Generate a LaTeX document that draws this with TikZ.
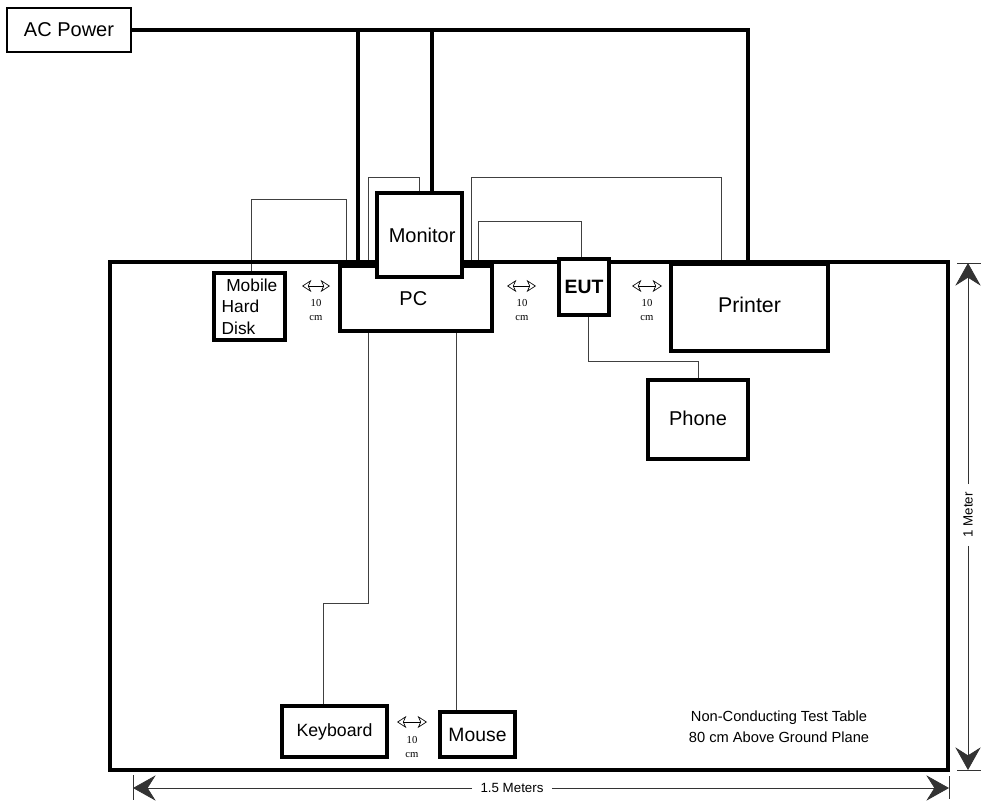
\documentclass[tikz,border=0pt]{standalone}
\usepackage{fontspec}
\setmainfont{Liberation Sans}
\newfontfamily\seriffont{Liberation Serif}
\usetikzlibrary{arrows.meta,backgrounds}
\begin{document}
\begin{tikzpicture}[x=0.75pt,y=-0.75pt,
  box/.style={draw,line width=3pt,fill=white,inner sep=0pt,align=center},
  wire/.style={line width=0.75pt,draw=black!75},
  power/.style={line width=3pt},
  gaparrow/.style={{Stealth[open,length=7pt,width=9pt,inset=2pt]}-{Stealth[open,length=7pt,width=9pt,inset=2pt]},line width=0.5pt},
  dimline/.style={line width=0.6pt,draw=black!80},
  dimtip/.style={-{Stealth[length=17pt,width=19pt,inset=6pt]}},
  cmtxt/.style={font=\seriffont\fontsize{8}{10.5}\selectfont,align=center,inner sep=0pt},
  f15/.style={font=\fontsize{15}{18}\selectfont}
]
\useasboundingbox (0,0) rectangle (985,803);

% table
\node[draw,line width=3pt,minimum width=628.5pt,minimum height=381pt,inner sep=0pt] (table) at (529,516) {};

% boxes
\node[box,line width=2.2pt,minimum width=93pt,minimum height=33pt,f15] (ac) at (69,30) {AC Power};
\node[box,minimum width=114pt,minimum height=48.75pt,f15] (pc) at (416,298.5) {\hspace*{-4pt}PC};
\node[box,minimum width=63.75pt,minimum height=63pt,f15] (mon) at (419.5,235) {\hspace*{4pt}Monitor};
\node[box,minimum width=53.25pt,minimum height=50.25pt,align=left,font=\fontsize{13}{16}\selectfont] (hd) at (249.5,306.5) {\hspace*{3.5pt}Mobile\\Hard\\Disk};
\node[box,minimum width=37.5pt,minimum height=42pt,font=\bfseries\fontsize{14.5}{17}\selectfont] (eut) at (584,287) {EUT};
\node[box,minimum width=117.75pt,minimum height=65.25pt,font=\fontsize{16}{19}\selectfont] (prn) at (749.5,307.5) {\raisebox{4pt}{Printer}};
\node[box,minimum width=75pt,minimum height=59.25pt,f15] (phone) at (698,419.5) {\raisebox{2pt}{Phone}};
\node[box,minimum width=78.75pt,minimum height=38.25pt,font=\fontsize{13.3}{16}\selectfont] (kb) at (334.5,731.5) {Keyboard};
\node[box,minimum width=56.25pt,minimum height=33.75pt,font=\fontsize{14.5}{17}\selectfont] (mouse) at (477.5,734.5) {Mouse};

% cables and power lines
\begin{pgfonlayer}{background}
\draw[power] (ac.east) -- (748,0 |- ac.east) -- (748,0 |- table.north);
\draw[power] (358,0 |- ac.east) -- (358,0 |- pc.north);
\draw[power] (432,0 |- ac.east) -- (432,0 |- mon.north);
\draw[wire] (251,0 |- hd.north) |- (346,199) -- (346,0 |- pc.north);
\draw[wire] (368,0 |- pc.north) |- (419,177) -- (419,0 |- mon.north);
\draw[wire] (471,0 |- pc.north) |- (721,177) -- (721,0 |- prn.north);
\draw[wire] (478,0 |- pc.north) |- (581,221) -- (581,0 |- eut.north);
\draw[wire] (588,0 |- eut.south) |- (698,361) -- (phone.north);
\draw[wire] (368,0 |- pc.south) |- (323,603) -- (323,0 |- kb.north);
\draw[wire] (456,0 |- pc.south) -- (456,0 |- mouse.north);
\end{pgfonlayer}

% 10 cm spacings
\coordinate (g1a) at (302,286); \coordinate (g1b) at (330,286);
\draw[gaparrow] (g1a) -- (g1b);
\node[cmtxt] (g1t) at (316,310) {10\\cm};
\coordinate (g2a) at (507,286); \coordinate (g2b) at (536,286);
\draw[gaparrow] (g2a) -- (g2b);
\node[cmtxt] (g2t) at (522,310) {10\\cm};
\coordinate (g3a) at (632,286); \coordinate (g3b) at (662,286);
\draw[gaparrow] (g3a) -- (g3b);
\node[cmtxt] (g3t) at (647,310) {10\\cm};
\coordinate (g4a) at (397,722); \coordinate (g4b) at (427,722);
\draw[gaparrow] (g4a) -- (g4b);
\node[cmtxt] (g4t) at (412,747) {10\\cm};

% table note
\node[align=center,inner sep=0pt,font=\fontsize{11}{15.75}\selectfont] (note) at (779,727) {Non-Conducting Test Table\\80 cm Above Ground Plane};

% width dimension
\coordinate (bL) at (133,788); \coordinate (bR) at (949,788);
\coordinate (bLt) at (133,775); \coordinate (bLb) at (133,800);
\coordinate (bRt) at (949,776); \coordinate (bRb) at (949,799);
\node[inner sep=6pt,font=\fontsize{10}{12}\selectfont] (w15) at (512,788) {1.5 Meters};
\draw[dimline,dimtip] (w15.west) -- (bL);
\draw[dimline,dimtip] (w15.east) -- (bR);
\draw[dimline] (bLt) -- (bLb);
\draw[dimline] (bRt) -- (bRb);

% height dimension
\coordinate (rT) at (968,263); \coordinate (rB) at (968,770);
\coordinate (rTl) at (957,263); \coordinate (rTr) at (981,263);
\coordinate (rBl) at (957,770); \coordinate (rBr) at (981,770);
\node[inner sep=6pt,rotate=90,font=\fontsize{10}{12}\selectfont] (w1) at (968,515) {1 Meter};
\draw[dimline,dimtip] (w1.east) -- (rT);
\draw[dimline,dimtip] (w1.west) -- (rB);
\draw[dimline] (rTl) -- (rTr);
\draw[dimline] (rBl) -- (rBr);
\end{tikzpicture}
\end{document}
